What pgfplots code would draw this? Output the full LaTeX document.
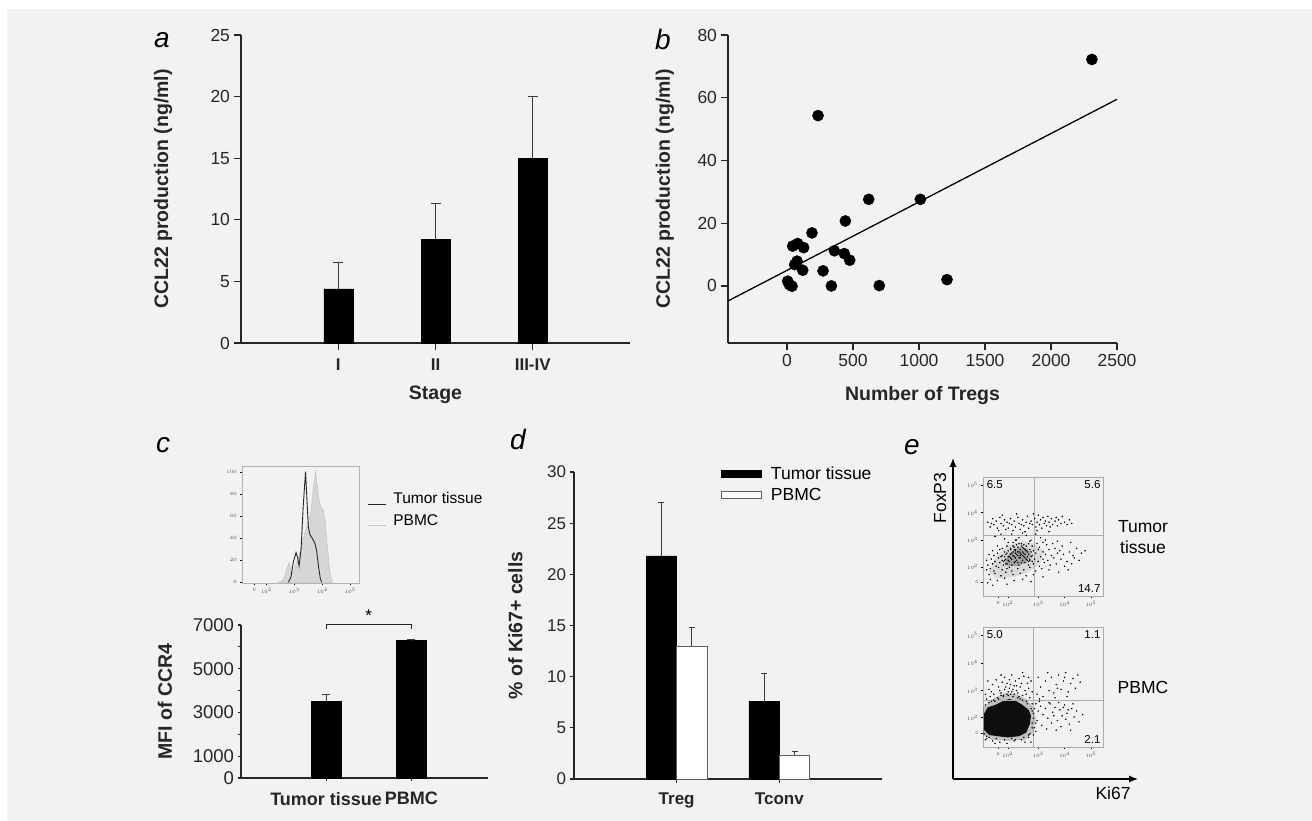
\documentclass[border=0pt]{standalone}
\usepackage{pgfplots}
\pgfplotsset{compat=1.18}
\usepackage{fontspec}
\setmainfont{Liberation Sans}
\usetikzlibrary{arrows.meta}
\definecolor{bg}{HTML}{F2F2F2}
\definecolor{ax}{HTML}{262626}
\definecolor{err}{HTML}{3C3C3C}
\newcommand{\fs}[1]{\fontsize{#1}{#1}\selectfont}
\pgfplotsset{
  base/.style={scale only axis, anchor=south west, axis lines*=left,
    axis line style={ax, line width=1.2pt}, tick style={ax, line width=1.2pt},
    tick align=outside, major tick length=7.5pt,
    ticklabel style={font=\fs{17.5}, text=ax},
    label style={font=\bfseries\fs{19.5}, text=ax},
    /pgf/number format/assume math mode=true, /pgf/number format/1000 sep={},
    clip=false},
  errb/.style={error bars/.cd, y dir=plus, y explicit,
    error bar style={err, line width=1pt},
    error mark options={err, line width=1pt, mark size=#1, rotate=90}},
  dot/.style={scale only axis, anchor=south west, xmin=0, xmax=100, ymin=0, ymax=100,
    axis line style={gray!65, line width=0.7pt}, tick style={black, line width=0.4pt},
    major tick length=1.6pt, tick align=outside, xtick pos=bottom, ytick pos=left,
    ticklabel style={font=\fs{4.2}, text=black!70}, clip=false},
}
\begin{document}
\begin{tikzpicture}
\fill[white] (0,0) rectangle (1312pt,821pt);
\fill[bg] (7pt,0) rectangle (1312pt,812pt);
\path[use as bounding box] (0,0) rectangle (1312pt,821pt);

% ---------------- panel a
\begin{axis}[base, at={(241pt,478pt)}, width=389pt, height=308pt,
  xmin=0, xmax=4, ymin=0, ymax=25, ytick={0,5,...,25},
  xtick={1,2,3}, xticklabels={I,II,III-IV}, xticklabel style={font=\bfseries\fs{17}, yshift=-5pt},
  major tick length=7.5pt,
  xlabel={Stage}, ylabel={CCL22 production (ng/ml)},
  xlabel style={at={(axis description cs:0.5,-0.169)}, anchor=center},
  ylabel style={at={(axis description cs:-0.2,0.5)}, anchor=center}]
\addplot[ybar, bar width=29pt, fill=black, draw=black, errb=5pt]
  coordinates {(1,4.4) +- (0,2.1) (2,8.4) +- (0,2.9) (3,15.0) +- (0,5.0)};
\end{axis}

% ---------------- panel b
\begin{axis}[base, at={(728pt,478pt)}, width=389pt, height=308pt,
  xmin=-447, xmax=2500, ymin=-18.2, ymax=80, ytick={0,20,...,80},
  xtick={0,500,...,2500},
  xlabel={Number of Tregs}, ylabel={CCL22 production (ng/ml)},
  xlabel style={at={(axis description cs:0.5,-0.169)}, anchor=center},
  ylabel style={at={(axis description cs:-0.162,0.5)}, anchor=center}]
\addplot[black, line width=1.3pt] coordinates {(-447,-4.8) (2500,59.5)};
\addplot[only marks, mark=*, mark size=5.6pt, black] coordinates {
 (2310,72.2) (235,54.3) (619,27.6) (1010,27.6) (442,20.7) (189,16.9)
 (43,12.7) (81,13.5) (126,12.2) (359,11.2) (434,10.3) (475,8.2)
 (76,7.9) (58,6.8) (119,5.0) (273,4.8) (336,0.0) (699,0.1)
 (1212,2.0) (5,1.5) (18,0.4) (38,-0.1)};
\end{axis}

% ---------------- panel c : histogram inset
\begin{axis}[scale only axis, anchor=south west, at={(242pt,238pt)}, width=117pt, height=117pt,
  xmin=1.13, xmax=5.31, ymin=-0.6, ymax=105.2,
  axis line style={gray!60, line width=0.8pt}, tick style={black, line width=0.4pt},
  major tick length=1.8pt, tick align=outside, xtick pos=bottom, ytick pos=left,
  xtick={1.57,2,3,4,5}, xticklabels={0,$10^2$,$10^3$,$10^4$,$10^5$},
  ytick={0,20,...,100}, ticklabel style={font=\fs{4.5}, text=black!70},
  legend style={at={(axis description cs:1.07,0.79)}, anchor=north west, draw=none, fill=none,
    font=\fs{15.5}, row sep=5pt, inner sep=0pt,
    /tikz/every odd column/.append style={column sep=5pt}},
  legend cell align=left, reverse legend,
  legend image code/.code={\draw[#1, line width=1pt] (0pt,-5pt) -- (18pt,-5pt);}]
\addplot[fill=gray!32, draw=gray!45, line width=0.6pt] coordinates {
 (2.43,0) (2.61,2) (2.73,12) (2.81,18) (2.88,12) (2.94,8) (3.02,14) (3.14,22)
 (3.26,32) (3.38,45) (3.50,55) (3.60,65) (3.68,85) (3.76,100) (3.83,85) (3.88,75)
 (3.95,68) (4.04,65) (4.10,55) (4.15,40) (4.21,25) (4.27,8) (4.36,0)} \closedcycle;
\addlegendentry{PBMC}
\addplot[black!85, line width=0.9pt] coordinates {
 (2.79,0) (2.88,5) (2.96,18) (3.06,27) (3.12,22) (3.17,15) (3.24,30) (3.32,70)
 (3.40,100) (3.45,75) (3.50,50) (3.56,43) (3.64,40) (3.74,35) (3.80,28) (3.86,15)
 (3.93,3) (3.98,0)};
\addlegendentry{Tumor tissue}
\end{axis}

% ---------------- panel c : bars
\begin{axis}[base, at={(241pt,43pt)}, width=247pt, height=153pt,
  xmin=0, xmax=2.9, ymin=0, ymax=7000, major tick length=3.5pt,
  ytick={0,1000,...,7000}, yticklabels={0,1000,,3000,,5000,,7000},
  yticklabel style={font=\fs{18.5}},
  xtick={1,2}, xticklabels={Tumor tissue,PBMC}, xticklabel style={font=\bfseries\fs{18}, yshift=-7pt},
  ylabel={MFI of CCR4},
  ylabel style={at={(axis description cs:-0.308,0.5)}, anchor=center}]
\addplot[ybar, bar width=30pt, fill=black, draw=black, errb=4pt]
  coordinates {(1,3500) +- (0,335) (2,6290) +- (0,30)};
\addplot[ax, line width=1pt] coordinates {(1,6820) (1,7000) (2,7000) (2,6820)};
\node[font=\fs{17}] at (axis cs:1.5,7420) {*};
\end{axis}

% ---------------- panel d
\begin{axis}[base, at={(574pt,42pt)}, width=308pt, height=307pt,
  xmin=0, xmax=3, ymin=0, ymax=30, ybar=0pt, bar width=30.5pt, major tick length=4.5pt,
  ytick={0,5,...,30}, ticklabel style={font=\fs{17}},
  xtick={1,2}, xticklabels={Treg,Tconv}, xticklabel style={font=\bfseries\fs{17}, yshift=-6pt},
  ylabel={\% of Ki67+ cells},
  ylabel style={at={(axis description cs:-0.19,0.5)}, anchor=center},
  legend style={at={(axis description cs:0.4675,1.03)}, anchor=north west, draw=none, fill=none,
    font=\fs{17.5}, row sep=3pt,
    /tikz/every odd column/.append style={column sep=7pt}},
  legend cell align=left,
  legend image code/.code={\draw[#1] (0pt,-3.6pt) rectangle (40pt,3.6pt);}]
\addplot[fill=black, draw=black, errb=3pt]
  coordinates {(1,21.8) +- (0,5.2) (2,7.6) +- (0,2.7)};
\addplot[fill=white, draw=gray!75!black, line width=0.8pt, errb=3pt]
  coordinates {(1,13.0) +- (0,1.8) (2,2.3) +- (0,0.37)};
\legend{Tumor tissue,PBMC}
\end{axis}

% ---------------- panel e : outer arrows
\begin{axis}[scale only axis, anchor=south west, at={(953pt,42pt)}, width=185pt, height=321pt,
  xmin=0, xmax=1, ymin=0, ymax=1, axis lines=left, ticks=none,
  axis line style={black, line width=1.2pt, -{Latex[length=9pt,width=7pt]}},
  xlabel={Ki67}, ylabel={FoxP3}, label style={font=\fs{17.5}},
  xlabel style={at={(axis description cs:0.865,-0.044)}, anchor=center},
  ylabel style={at={(axis description cs:-0.07,0.875)}, anchor=center}]
\addplot[draw=none] coordinates {(0,0) (1,1)};
\end{axis}

% ---------------- panel e : tumor dot plot
\begin{axis}[dot, at={(983pt,225pt)}, width=120pt, height=119pt,
  xtick={12.8,20.6,46,68,90}, xticklabels={0,$10^2$,$10^3$,$10^4$,$10^5$},
  ytick={11.5,24.6,47,70,93}, yticklabels={0,$10^2$,$10^3$,$10^4$,$10^5$}]
\addplot[fill=black, draw=none, opacity=0.1] coordinates {
 (5,20) (10,32) (20,42) (32,46) (42,44) (50,38) (48,28) (38,20) (25,16) (12,15) (5,20)};
\addplot[fill=black, draw=none, opacity=0.25] coordinates {
 (18,28) (22,36) (30,41) (37,40) (40,35) (36,28) (28,25) (20,25) (18,28)};
\addplot[only marks, mark=*, mark size=0.5pt, black] coordinates {
 (4,62) (6,58) (8,65) (9,60) (11,63) (12,57) (14,66) (15,61) (17,59) (18,64) (20,62) (21,57)
 (23,65) (24,60) (26,63) (27,58) (29,66) (30,61) (31,56) (33,64) (34,59) (36,62) (37,67) (38,57)
 (40,63) (41,60) (43,65) (44,58) (45,62) (46,68) (47,60) (48,64) (49,57) (50,66) (51,61) (52,63)
 (53,59) (54,67) (55,62) (56,58) (57,65) (58,60) (60,63) (61,66) (62,59) (63,64) (65,61) (66,67)
 (68,62) (70,60) (72,64) (74,61) (13,55) (25,55) (35,54) (45,55) (55,54) (16,68) (28,69) (42,69)
 (39,61) (32,60) (22,61) (19,56) (7,61)
 (10,50) (18,48) (24,52) (30,49) (36,51) (40,47) (44,52) (48,49) (33,53) (27,47) (15,52) (52,47)
 (38,44) (21,45)
 (25,45) (32,44) (39,46) (45,44) (50,45) (28,47) (12,42) (20,42) (26,41) (34,43) (41,42) (47,41)
 (53,43) (16,40) (8,38) (14,39) (18,37) (23,39) (27,38) (42,38) (46,39) (50,37) (55,39) (60,40)
 (64,38) (5,35) (9,34) (12,36) (15,33) (19,35) (41,34) (44,36) (48,33) (52,35) (57,34) (62,36)
 (67,35) (72,37) (3,30) (7,31) (10,29) (13,32) (16,30) (39,30) (43,31) (46,29) (50,31) (54,30)
 (59,32) (65,31) (70,29) (76,32) (80,30) (4,26) (8,27) (11,25) (14,28) (17,26) (38,26) (42,27)
 (47,25) (51,28) (56,26) (61,27) (68,25) (74,27) (3,22) (6,23) (9,21) (13,24) (16,22) (20,23)
 (24,21) (29,23) (34,22) (39,24) (44,21) (49,23) (55,22) (63,20) (71,22) (5,18) (10,19) (15,17)
 (19,20) (25,18) (31,19) (36,17) (42,18) (50,16) (6,14) (12,13) (18,15) (26,13) (33,14) (40,12)
 (8,9) (20,10) (4,11) (78,40) (82,36) (58,44) (66,42) (75,34) (85,38) (73,45) (62,46)
 (17,29) (19,31) (21,33) (23,35) (25,37) (27,39) (29,41) (31,39) (33,37) (35,35) (37,33) (39,31)
 (20,27) (22,29) (24,31) (26,33) (28,35) (30,37) (32,35) (34,33) (36,31) (38,29) (21,38) (23,40)
 (25,42) (27,36) (29,34) (31,32) (33,30) (35,28) (37,37) (39,39) (26,28) (28,30) (30,32) (32,28)
 (34,40) (36,42) (24,26) (22,24) (30,26) (18,33) (20,36) (16,34) (40,37) (41,29) (29,28) (31,36)
 (33,34) (35,32) (27,32) (25,34) (23,32) (21,30) (19,27) (38,35) (36,38) (34,36) (32,42) (30,44)
 (28,43) (24,36) (26,39) (29,37) (31,34) (33,41) (35,39) (22,33) (18,30) (27,29) (37,30) (40,33)};
\addplot[gray!65, line width=0.9pt] coordinates {(42.5,0) (42.5,100)};
\addplot[gray!65, line width=0.9pt] coordinates {(0,50.7) (100,50.7)};
\node[font=\fs{11.5}, anchor=north west, inner sep=0pt] at (axis cs:3,97) {6.5};
\node[font=\fs{11.5}, anchor=north east, inner sep=0pt] at (axis cs:98,97) {5.6};
\node[font=\fs{11.5}, anchor=south east, inner sep=0pt] at (axis cs:98,3) {14.7};
\end{axis}

% ---------------- panel e : PBMC dot plot
\begin{axis}[dot, at={(983pt,74pt)}, width=120pt, height=120pt,
  xtick={12.8,20.6,46,68,90}, xticklabels={0,$10^2$,$10^3$,$10^4$,$10^5$},
  ytick={11.5,24.6,47,70,93}, yticklabels={0,$10^2$,$10^3$,$10^4$,$10^5$}]
\addplot[fill=black, draw=none, opacity=0.2] coordinates {
 (0,10) (0,33) (8,40) (18,45) (28,44) (36,40) (42,33) (44,24) (42,12) (35,6) (20,5) (8,6) (0,10)};
\addplot[fill=black, draw=none, opacity=0.92] coordinates {
 (1,14) (1,28) (4,33) (10,35) (16,38) (22,40) (28,38) (33,35) (38,31) (40,26) (39,19) (36,12)
 (30,9) (21,8) (12,9) (5,10) (1,14)};
\addplot[only marks, mark=*, mark size=0.5pt, black] coordinates {
 (3,40) (6,42) (9,44) (12,41) (14,47) (17,43) (19,50) (21,46) (23,52) (25,48) (27,55) (29,45)
 (31,50) (33,43) (35,47) (37,53) (39,41) (41,46) (5,48) (8,52) (11,56) (13,50) (16,54) (18,58)
 (20,44) (22,56) (24,60) (26,51) (28,47) (30,57) (32,53) (34,59) (36,44) (38,49) (40,55) (15,45)
 (20,53) (26,44) (30,42) (24,46) (18,48) (22,49) (28,51) (10,38) (7,46) (4,55) (15,60) (33,62)
 (38,58) (2,44)
 (45,44) (48,50) (50,42) (52,55) (55,47) (57,58) (59,45) (61,52) (63,60) (65,48) (67,55) (69,62)
 (71,46) (73,53) (75,57) (77,49) (79,60) (81,54) (46,58) (54,62) (60,41) (70,42) (47,40) (62,49)
 (68,58)
 (44,36) (46,30) (48,34) (50,27) (52,32) (54,24) (56,36) (58,29) (60,33) (62,22) (64,31) (66,26)
 (68,35) (70,28) (72,19) (74,32) (76,25) (78,30) (80,21) (83,27) (45,22) (49,18) (53,15) (57,20)
 (61,14) (65,17) (69,23) (73,14) (47,38) (55,37) (63,37) (67,33) (75,36) (59,26) (71,31)
 (3,7) (8,5) (14,4) (20,3) (26,5) (32,6) (38,8) (42,10) (43,16) (44,20) (42,28) (43,32)
 (41,36) (2,6) (10,3) (35,4) (40,4) (44,13)
 (2,35) (5,37) (9,39) (13,40) (17,42) (21,43) (25,42) (29,41) (33,39) (37,36) (40,32) (42,24)
 (41,16) (39,11) (34,8) (27,6) (18,6) (11,7) (5,8) (1,11) (3,9) (7,38) (15,43) (23,44) (31,40)
 (36,38) (41,30) (41,20) (38,10) (24,7)};
\addplot[gray!65, line width=0.9pt] coordinates {(42,0) (42,100)};
\addplot[gray!65, line width=0.9pt] coordinates {(0,39.2) (100,39.2)};
\node[font=\fs{11.5}, anchor=north west, inner sep=0pt] at (axis cs:3,97) {5.0};
\node[font=\fs{11.5}, anchor=north east, inner sep=0pt] at (axis cs:98,97) {1.1};
\node[font=\fs{11.5}, anchor=south east, inner sep=0pt] at (axis cs:98,3) {2.1};
\end{axis}

% ---------------- texts
\node[align=center, font=\fontsize{17.5}{21}\selectfont] at (1143pt,284pt) {Tumor\\tissue};
\node[font=\fs{17.5}] at (1143pt,134pt) {PBMC};
\node[font=\itshape\fs{28}] at (162pt,781pt) {a};
\node[font=\itshape\fs{28}] at (663pt,781pt) {b};
\node[font=\itshape\fs{28}] at (163pt,376pt) {c};
\node[font=\itshape\fs{28}] at (518pt,381pt) {d};
\node[font=\itshape\fs{28}] at (912pt,374pt) {e};
\end{tikzpicture}
\end{document}
